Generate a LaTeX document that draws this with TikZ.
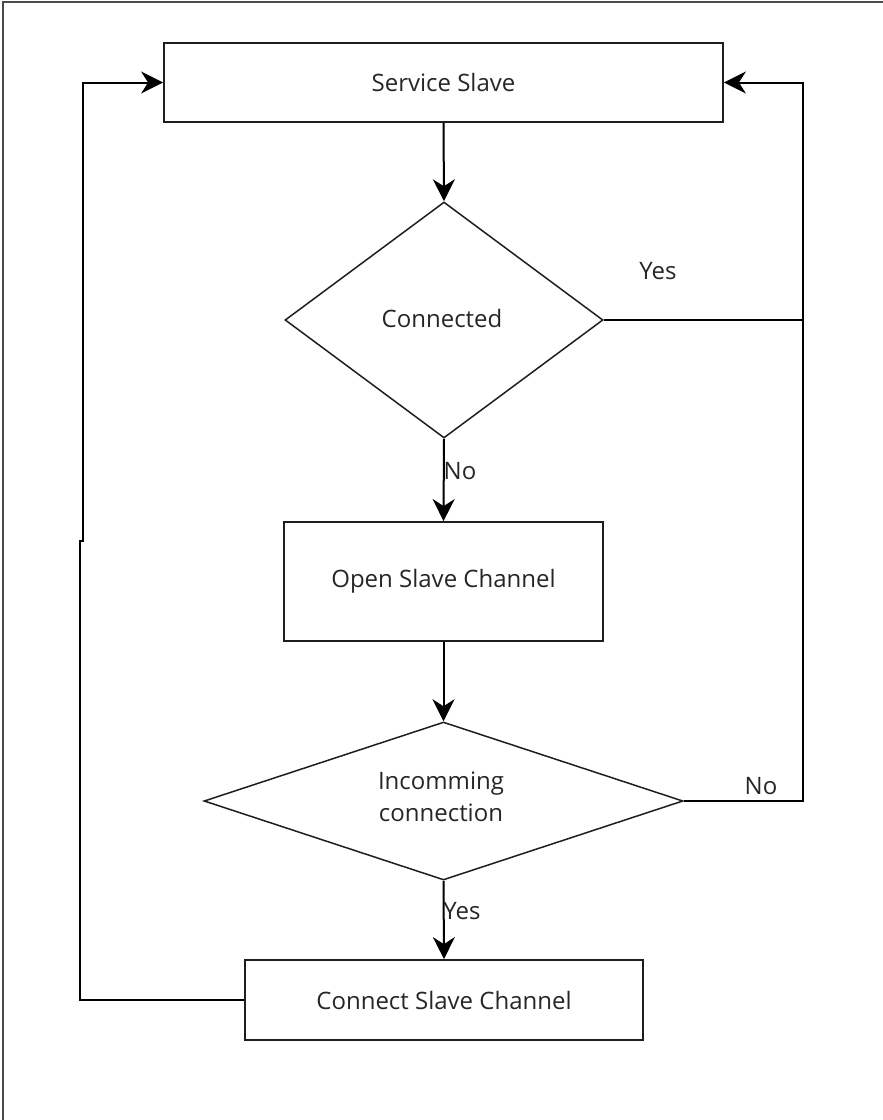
\documentclass[tikz,border=0pt]{standalone}
\usepackage{fontspec}
\setmainfont{Open Sans}
\usetikzlibrary{shapes.geometric,arrows.meta}
\definecolor{ln}{HTML}{1E1E1E}
\definecolor{tx}{HTML}{262626}
\begin{document}
\begin{tikzpicture}[x=1pt,y=-1pt,
  font=\fontsize{24}{32}\selectfont,
  box/.style={draw=ln,line width=1.8pt,rectangle,inner sep=0pt,text=tx,align=center},
  dia/.style={draw=ln,line width=1.5pt,diamond,inner sep=0pt,text=tx,align=center},
  conn/.style={draw=black,line width=2pt},
  arr/.style={conn,-{Stealth[length=22pt,width=22pt,inset=7pt]}},
  lbl/.style={text=tx,inner sep=0pt}]
\useasboundingbox (0,0) rectangle (883,1120);
\draw[color=ln!80,line width=2pt] (3,1120) -- (3,2) -- (883,2);
\node[box,minimum width=559pt,minimum height=79pt] (ss) at (443.5,82.5) {Service Slave};
\node[dia,minimum width=318pt,minimum height=236pt] (cn) at (444,320) {};
\node[tx] at (442,318) {Connected};
\node[box,minimum width=319pt,minimum height=119pt] (os) at (443.5,581.5) {Open Slave Channel};
\node[dia,minimum width=479pt,minimum height=158pt] (ic) at (443.5,801) {};
\node[align=center,text=tx] at (441,797) {Incomming\\connection};
\node[box,minimum width=398pt,minimum height=80pt] (cs) at (444,1000) {Connect Slave Channel};
\coordinate (rt) at (803,320);
\coordinate (jl) at (80,541);
\coordinate (ju) at (83,541);
\draw[arr] (ss.south) -- (cn.north);
\draw[arr] (cn.south) -- (os.north);
\draw[arr] (os.south) -- (ic.north);
\draw[arr] (ic.south) -- (cs.north);
\draw[arr] (cn.east) -- (rt) |- (ss.east);
\draw[conn] (ic.east) -| (rt);
\draw[arr] (cs.west) -| (jl) -- (ju) |- (ss.west);
\node[lbl] at (658,271) {Yes};
\node[lbl] at (460,471) {No};
\node[lbl] at (761,786) {No};
\node[lbl] at (462,911) {Yes};
\end{tikzpicture}
\end{document}
